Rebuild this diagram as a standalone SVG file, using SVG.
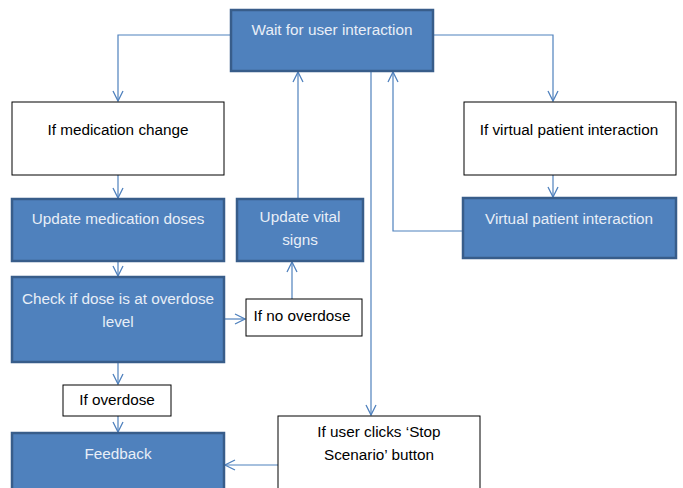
<svg xmlns="http://www.w3.org/2000/svg" width="683" height="488" viewBox="0 0 683 488">
<defs>
<marker id="arr" viewBox="0 0 12 12" refX="11" refY="6" markerWidth="12" markerHeight="12" markerUnits="userSpaceOnUse" orient="auto">
<path d="M1,1 L11,6 L1,11" fill="none" stroke="#4F81BD" stroke-width="1.3"/>
</marker>
</defs>
<style>
.blue{fill:#4F81BD;stroke:#385D8A;stroke-width:2.5}
.white{fill:#FFFFFF;stroke:#000000;stroke-width:1}
.bt{font-family:"Liberation Sans",Arial,sans-serif;font-size:15.3px;fill:#E8EEF7;text-anchor:middle}
.wt{font-family:"Liberation Sans",Arial,sans-serif;font-size:15.3px;fill:#000000;text-anchor:middle}
.c{fill:none;stroke:#4F81BD;stroke-width:1.2}
</style>
<rect width="683" height="488" fill="#FFFFFF"/>
<g id="connectors">
<path class="c" d="M231,35 H118 V101" marker-end="url(#arr)"/>
<path class="c" d="M433,35 H553 V101" marker-end="url(#arr)"/>
<path class="c" d="M118,175 V198" marker-end="url(#arr)"/>
<path class="c" d="M553,175 V197" marker-end="url(#arr)"/>
<path class="c" d="M118,261 V276" marker-end="url(#arr)"/>
<path class="c" d="M118,362 V384" marker-end="url(#arr)"/>
<path class="c" d="M118,416 V432" marker-end="url(#arr)"/>
<path class="c" d="M224,319 H245" marker-end="url(#arr)"/>
<path class="c" d="M292,299 V262" marker-end="url(#arr)"/>
<path class="c" d="M298,198 V72" marker-end="url(#arr)"/>
<path class="c" d="M371,72 V415" marker-end="url(#arr)"/>
<path class="c" d="M463,231 H393 V72" marker-end="url(#arr)"/>
<path class="c" d="M278,465 H225" marker-end="url(#arr)"/>
</g>
<g id="wait">
<rect class="blue" x="231" y="10" width="202" height="61"/>
<text class="bt" x="332" y="35">Wait for user interaction</text>
</g>
<g id="ifmed">
<rect class="white" x="12" y="102" width="212" height="73"/>
<text class="wt" x="118" y="135">If medication change</text>
</g>
<g id="ifvp">
<rect class="white" x="464" y="102" width="212" height="73"/>
<text class="wt" x="569" y="135">If virtual patient interaction</text>
</g>
<g id="updmed">
<rect class="blue" x="12" y="199" width="212" height="62"/>
<text class="bt" x="118" y="224">Update medication doses</text>
</g>
<g id="updvital">
<rect class="blue" x="237" y="199" width="126" height="62"/>
<text class="bt" x="300" y="222">Update vital</text>
<text class="bt" x="300" y="245">signs</text>
</g>
<g id="vpi">
<rect class="blue" x="463" y="198" width="213" height="60"/>
<text class="bt" x="569" y="224">Virtual patient interaction</text>
</g>
<g id="check">
<rect class="blue" x="12" y="277" width="212" height="85"/>
<text class="bt" x="118" y="304">Check if dose is at overdose</text>
<text class="bt" x="118" y="327">level</text>
</g>
<g id="ifnoover">
<rect class="white" x="246" y="299" width="116" height="37"/>
<text class="wt" x="302" y="321">If no overdose</text>
</g>
<g id="ifover">
<rect class="white" x="63" y="385" width="108" height="31"/>
<text class="wt" x="117" y="405">If overdose</text>
</g>
<g id="feedback">
<rect class="blue" x="12" y="433" width="212" height="70"/>
<text class="bt" x="118" y="459">Feedback</text>
</g>
<g id="ifstop">
<rect class="white" x="278" y="416" width="202" height="90"/>
<text class="wt" x="379" y="437">If user clicks ‘Stop</text>
<text class="wt" x="379" y="460">Scenario’ button</text>
</g>
</svg>
